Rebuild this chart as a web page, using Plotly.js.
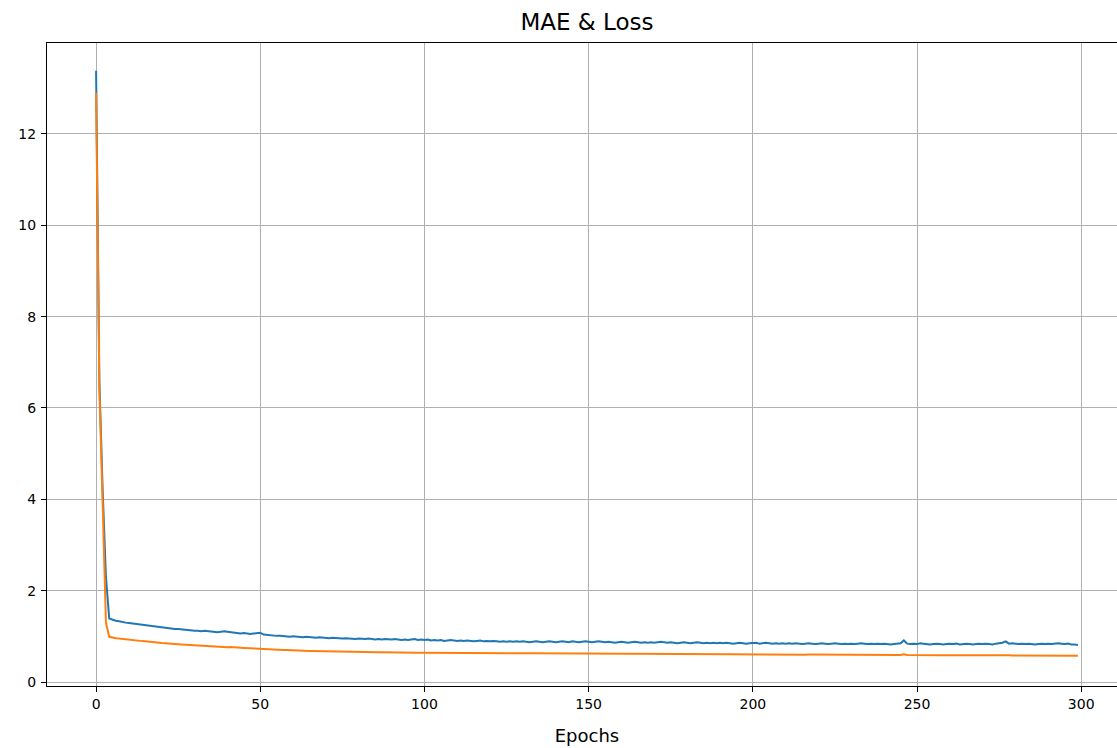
<!DOCTYPE html>
<html>
<head>
<meta charset="utf-8">
<script src="https://cdn.plot.ly/plotly-3.0.1.min.js"></script>
<style>
html, body { margin: 0; padding: 0; overflow: hidden; background: #fff; }
#chart { width: 1140px; height: 748px; }
</style>
</head>
<body>
<div id="chart"></div>
<script>
const chartTitle = "MAE & Loss";
const xLabel = "Epochs";
const xTicks = [0, 50, 100, 150, 200, 250, 300];
const yTicks = [0, 2, 4, 6, 8, 10, 12];

const maeValues = [
  13.38, 6.6, 4.2, 2.3, 1.39,
  1.36, 1.34, 1.33, 1.31, 1.30,
  1.29, 1.28, 1.27, 1.26, 1.25, 1.24, 1.23, 1.22, 1.21, 1.20,
  1.19, 1.18, 1.18, 1.17, 1.16, 1.16, 1.15, 1.14, 1.14, 1.13,
  1.12, 1.12, 1.11, 1.12, 1.11, 1.10, 1.10, 1.09, 1.10, 1.11,
  1.10, 1.09, 1.08, 1.07, 1.06, 1.07, 1.06, 1.05, 1.06, 1.07,
  1.08, 1.04, 1.03, 1.02, 1.02, 1.01, 1.01, 1.00, 1.00, 0.99,
  1.00, 0.99, 0.99, 0.98, 0.99, 0.98, 0.98, 0.97, 0.98, 0.97,
  0.97, 0.96, 0.97, 0.96, 0.96, 0.95, 0.96, 0.95, 0.95, 0.94,
  0.95, 0.94, 0.94, 0.95, 0.94, 0.93, 0.94, 0.93, 0.94, 0.93,
  0.93, 0.94, 0.93, 0.92, 0.93, 0.92, 0.93, 0.94, 0.92, 0.93,
  0.92, 0.93, 0.91, 0.92, 0.91, 0.92, 0.90, 0.91, 0.92, 0.91,
  0.90, 0.91, 0.90, 0.91, 0.90, 0.89, 0.90, 0.91, 0.89, 0.90,
  0.89, 0.90, 0.89, 0.88, 0.89, 0.88, 0.89, 0.88, 0.89, 0.88,
  0.89, 0.88, 0.87, 0.88, 0.89, 0.88, 0.87, 0.88, 0.89, 0.88,
  0.87, 0.88, 0.89, 0.88, 0.87, 0.89, 0.88, 0.87, 0.88, 0.89,
  0.88, 0.87, 0.88, 0.89, 0.88, 0.87, 0.88, 0.87, 0.86, 0.87,
  0.88, 0.87, 0.86, 0.87, 0.88, 0.87, 0.86, 0.87, 0.86, 0.87,
  0.86, 0.87, 0.88, 0.87, 0.86, 0.87, 0.86, 0.85, 0.86, 0.87,
  0.86, 0.85, 0.86, 0.87, 0.86, 0.85, 0.86, 0.85, 0.86, 0.85,
  0.86, 0.85, 0.86, 0.85, 0.84, 0.85, 0.86, 0.85, 0.84, 0.85,
  0.85, 0.86, 0.84, 0.85, 0.86, 0.85, 0.84, 0.85, 0.84, 0.85,
  0.84, 0.85, 0.84, 0.85, 0.84, 0.83, 0.84, 0.85, 0.84, 0.83,
  0.84, 0.85, 0.84, 0.83, 0.84, 0.85, 0.84, 0.83, 0.84, 0.83,
  0.84, 0.83, 0.84, 0.85, 0.84, 0.83, 0.84, 0.83, 0.84, 0.83,
  0.84, 0.83, 0.82, 0.83, 0.84, 0.85, 0.91, 0.84, 0.83, 0.84,
  0.83, 0.85, 0.84, 0.83, 0.82, 0.83, 0.84, 0.83, 0.82, 0.83,
  0.84, 0.83, 0.84, 0.82, 0.83, 0.84, 0.83, 0.82, 0.83, 0.84,
  0.83, 0.84, 0.83, 0.82, 0.84, 0.85, 0.86, 0.89, 0.84, 0.85,
  0.84, 0.83, 0.84, 0.83, 0.84, 0.83, 0.82, 0.83, 0.84, 0.83,
  0.84, 0.83, 0.84, 0.85, 0.84, 0.83, 0.84, 0.82, 0.82, 0.81
];

const lossValues = [
  12.9, 6.4, 3.9, 1.3, 0.99,
  0.97, 0.96, 0.95, 0.94, 0.93,
  0.925, 0.92, 0.91, 0.90, 0.895, 0.89, 0.88, 0.875, 0.87, 0.86,
  0.855, 0.85, 0.84, 0.835, 0.83, 0.825, 0.82, 0.815, 0.81, 0.80,
  0.80, 0.795, 0.79, 0.785, 0.78, 0.78, 0.775, 0.77, 0.77, 0.765,
  0.76, 0.765, 0.755, 0.75, 0.75, 0.745, 0.74, 0.735, 0.735, 0.73,
  0.725, 0.72, 0.72, 0.715, 0.71, 0.71, 0.705, 0.70, 0.70, 0.695,
  0.695, 0.69, 0.69, 0.685, 0.685, 0.68, 0.68, 0.678, 0.675, 0.675,
  0.672, 0.67, 0.668, 0.666, 0.665, 0.663, 0.662, 0.66, 0.66, 0.658,
  0.656, 0.655, 0.654, 0.653, 0.652, 0.651, 0.65, 0.65, 0.648, 0.648,
  0.647, 0.646, 0.645, 0.645, 0.644, 0.643, 0.643, 0.642, 0.641, 0.641,
  0.640, 0.641, 0.639, 0.640, 0.638, 0.639, 0.637, 0.638, 0.636, 0.637,
  0.636, 0.635, 0.636, 0.634, 0.635, 0.633, 0.634, 0.633, 0.632, 0.633,
  0.632, 0.631, 0.632, 0.630, 0.631, 0.630, 0.629, 0.630, 0.629, 0.628,
  0.629, 0.628, 0.627, 0.628, 0.627, 0.626, 0.627, 0.626, 0.625, 0.626,
  0.625, 0.624, 0.625, 0.624, 0.623, 0.624, 0.623, 0.622, 0.623, 0.622,
  0.621, 0.622, 0.621, 0.620, 0.621, 0.620, 0.619, 0.620, 0.619, 0.618,
  0.619, 0.618, 0.617, 0.618, 0.617, 0.616, 0.617, 0.616, 0.615, 0.616,
  0.615, 0.614, 0.615, 0.614, 0.613, 0.614, 0.613, 0.612, 0.613, 0.612,
  0.611, 0.612, 0.611, 0.610, 0.611, 0.610, 0.609, 0.610, 0.609, 0.608,
  0.609, 0.608, 0.607, 0.608, 0.607, 0.606, 0.607, 0.606, 0.605, 0.606,
  0.605, 0.604, 0.605, 0.604, 0.603, 0.604, 0.603, 0.602, 0.603, 0.602,
  0.601, 0.602, 0.601, 0.600, 0.601, 0.600, 0.599, 0.600, 0.599, 0.598,
  0.599, 0.598, 0.597, 0.598, 0.597, 0.596, 0.597, 0.596, 0.595, 0.596,
  0.595, 0.594, 0.595, 0.594, 0.593, 0.594, 0.593, 0.592, 0.593, 0.592,
  0.591, 0.592, 0.591, 0.590, 0.591, 0.592, 0.605, 0.592, 0.590, 0.589,
  0.590, 0.589, 0.588, 0.589, 0.588, 0.587, 0.588, 0.587, 0.586, 0.587,
  0.586, 0.585, 0.586, 0.585, 0.584, 0.585, 0.584, 0.583, 0.584, 0.583,
  0.582, 0.583, 0.582, 0.581, 0.582, 0.584, 0.586, 0.592, 0.583, 0.581,
  0.580, 0.581, 0.580, 0.579, 0.580, 0.579, 0.578, 0.579, 0.578, 0.577,
  0.578, 0.577, 0.576, 0.577, 0.576, 0.575, 0.576, 0.575, 0.574, 0.573
];

const epochs = maeValues.map((_, i) => i);

const font = "DejaVu Sans, sans-serif";

const traces = [
  { x: epochs, y: maeValues, type: "scatter", mode: "lines", name: "MAE",
    line: { color: "#1f77b4", width: 2 } },
  { x: epochs, y: lossValues, type: "scatter", mode: "lines", name: "Loss",
    line: { color: "#ff7f0e", width: 2 } }
];

const axisCommon = {
  showline: true, mirror: true, linecolor: "#000", linewidth: 1,
  ticks: "outside", ticklen: 5, tickwidth: 1, tickcolor: "#000",
  showgrid: true, gridcolor: "#b0b0b0", gridwidth: 1,
  zeroline: false,
  tickfont: { family: font, size: 14, color: "#000" }
};

const layout = {
  width: 1140, height: 748,
  margin: { l: 47, r: 13, t: 43, b: 62 },
  paper_bgcolor: "#fff", plot_bgcolor: "#fff",
  showlegend: false,
  font: { family: font, color: "#000" },
  title: { text: chartTitle, font: { family: font, size: 23, color: "#000" },
           x: 0.5, xref: "paper", xanchor: "center", y: 1 - 22 / 748, yanchor: "middle" },
  xaxis: Object.assign({}, axisCommon, {
    range: [-14.95, 313.95], tickvals: xTicks, ticktext: xTicks.map(String),
    title: { text: xLabel, font: { family: font, size: 18, color: "#000" }, standoff: 18 }
  }),
  yaxis: Object.assign({}, axisCommon, {
    range: [-0.0875, 13.99], tickvals: yTicks, ticktext: yTicks.map(String),
    ticklabelstandoff: 2
  })
};

Plotly.newPlot("chart", traces, layout, { displayModeBar: false, staticPlot: true });
</script>
</body>
</html>
